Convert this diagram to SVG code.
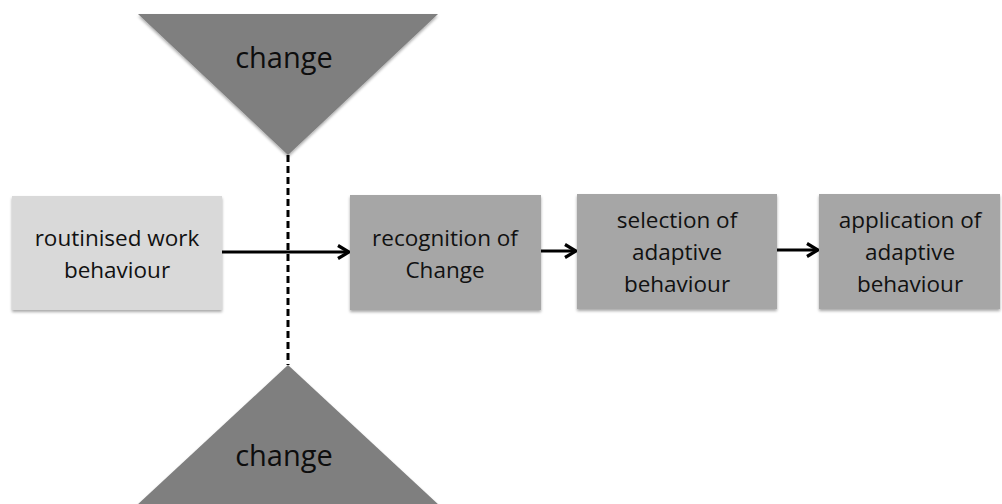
<svg xmlns="http://www.w3.org/2000/svg" width="1002" height="504" viewBox="0 0 1002 504">
  <style>
    .label { font-family: "Open Sans", "Liberation Sans", sans-serif; font-size: 22.5px; fill: #111; text-anchor: middle; }
    .big { font-family: "Open Sans", "Liberation Sans", sans-serif; font-size: 29px; fill: #0d0d0d; text-anchor: middle; }
    .tri { fill: #7f7f7f; }
    .light { fill: #d9d9d9; }
    .mid { fill: #a6a6a6; }
    .conn { stroke: #000; stroke-width: 3; fill: none; }
    .dash { stroke: #000; stroke-width: 3; stroke-dasharray: 7 4; fill: none; }
  </style>
  <defs>
    <filter id="shadow" x="-10%" y="-10%" width="120%" height="130%">
      <feGaussianBlur in="SourceAlpha" stdDeviation="1.5"/>
      <feOffset dx="0" dy="2" result="b"/>
      <feComponentTransfer><feFuncA type="linear" slope="0.35"/></feComponentTransfer>
      <feMerge><feMergeNode/><feMergeNode in="SourceGraphic"/></feMerge>
    </filter>
    <marker id="arrow" markerWidth="16" markerHeight="16" refX="13" refY="8" orient="auto" markerUnits="userSpaceOnUse">
      <path d="M2,1.5 L13,8 L2,14.5" fill="none" stroke="#000" stroke-width="3.2"/>
    </marker>
  </defs>

  <g id="change-top">
    <polygon class="tri" points="138,14 438,14 288,155" filter="url(#shadow)"/>
    <text class="big" x="284" y="68">change</text>
  </g>

  <g id="change-bottom">
    <polygon class="tri" points="288,365 440,506 136,506" filter="url(#shadow)"/>
    <text class="big" x="284" y="466">change</text>
  </g>

  <g id="connectors">
    <line class="dash" x1="288" y1="155" x2="288" y2="365"/>
    <line class="conn" x1="222" y1="252" x2="349" y2="252" marker-end="url(#arrow)"/>
    <line class="conn" x1="541" y1="251" x2="576" y2="251" marker-end="url(#arrow)"/>
    <line class="conn" x1="777" y1="250" x2="818" y2="250" marker-end="url(#arrow)"/>
  </g>

  <g id="routinised">
    <rect class="light" x="12" y="196" width="210" height="114" filter="url(#shadow)"/>
    <text class="label" x="117" y="246">routinised work</text>
    <text class="label" x="117" y="278">behaviour</text>
  </g>

  <g id="recognition">
    <rect class="mid" x="350" y="195" width="191" height="115" filter="url(#shadow)"/>
    <text class="label" x="445" y="246">recognition of</text>
    <text class="label" x="445" y="278">Change</text>
  </g>

  <g id="selection">
    <rect class="mid" x="577" y="194" width="200" height="115" filter="url(#shadow)"/>
    <text class="label" x="677" y="228">selection of</text>
    <text class="label" x="677" y="260">adaptive</text>
    <text class="label" x="677" y="292">behaviour</text>
  </g>

  <g id="application">
    <rect class="mid" x="819" y="194" width="181" height="115" filter="url(#shadow)"/>
    <text class="label" x="910" y="228">application of</text>
    <text class="label" x="910" y="260">adaptive</text>
    <text class="label" x="910" y="292">behaviour</text>
  </g>
</svg>
